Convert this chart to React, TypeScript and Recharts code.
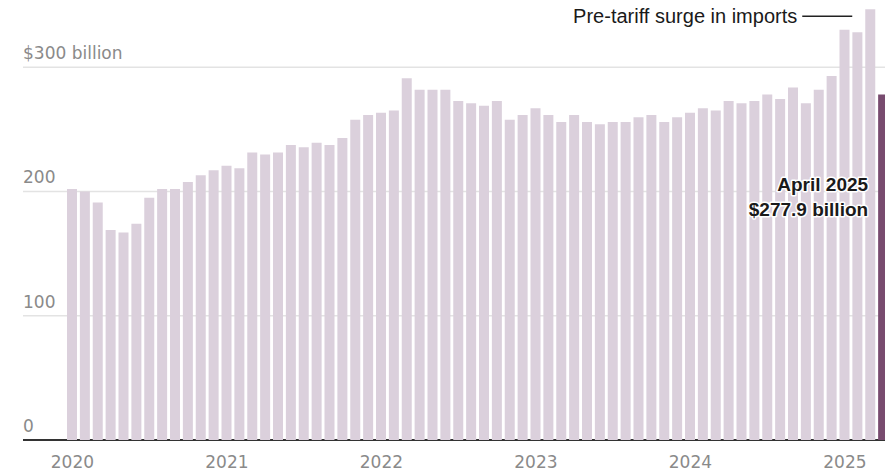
import React from 'react';
import { BarChart, Bar, XAxis, YAxis, CartesianGrid, Cell } from 'recharts';

const years = [2020, 2021, 2022, 2023, 2024, 2025];

// Monthly U.S. imports, billions of dollars
const imports2020 = [202, 200, 191, 169, 167, 174, 195, 202, 202, 207.6, 213, 217];
const imports2021 = [220.7, 218.6, 231.4, 229.8, 231.4, 237.3, 235.5, 239.2, 237.3, 243, 257.7, 261.5];
const imports2022 = [263.3, 265.2, 291, 281.8, 281.8, 281.8, 272.7, 270.9, 269, 272.7, 257.7, 261.5];
const imports2023 = [267, 261.5, 255.8, 261.5, 255.8, 254, 255.8, 255.8, 259.6, 261.5, 255.8, 259.6];
const imports2024 = [263.3, 267, 265.2, 272.7, 270.9, 272.7, 278, 274.3, 283.7, 270.9, 281.8, 292.8];
const imports2025 = [330, 328, 346.5, 277.9];

const yTicks = [0, 100, 200, 300];
const yTickLabels = ['0', '100', '200', '$300 billion'];

const surgeLabel = 'Pre-tariff surge in imports';
const latestLabel = ['April 2025', '$277.9 billion'];

const BAR = '#dbd0dc';
const LATEST = '#784b6f';
const TICK = '#8a8a8a';

const byYear = [imports2020, imports2021, imports2022, imports2023, imports2024, imports2025];
const data = byYear.flatMap((vals, yi) =>
  vals.map((v, m) => ({ month: `${years[yi]}-${String(m + 1).padStart(2, '0')}`, value: v })),
);
const last = data.length - 1;
const surge = last - 1;

const YTick = ({ y, payload }: any) => {
  const i = yTicks.indexOf(payload.value);
  return (
    <text x={23} y={y - 8} fill={TICK} fontSize={17} fontFamily="DejaVu Sans" textAnchor="start">
      {yTickLabels[i]}
    </text>
  );
};

const halo = { paintOrder: 'stroke' as const, stroke: '#fff', strokeWidth: 3, strokeLinejoin: 'round' as const };

const Notes = ({ x, y, index }: any) => {
  if (index === last) {
    return (
      <g fontFamily="Liberation Sans" fontWeight="bold" fontSize={19} fill="#1a1a1a" textAnchor="end" style={halo}>
        <text x={x - 10} y={y + 96}>{latestLabel[0]}</text>
        <text x={x - 10} y={y + 121}>{latestLabel[1]}</text>
      </g>
    );
  }
  if (index === surge) {
    return (
      <g>
        <line x1={x - 63} x2={x - 13} y1={y + 7} y2={y + 7} stroke="#222" strokeWidth={1.5} />
        <text x={x - 68} y={y + 13.5} fontFamily="Liberation Sans" fontSize={20} fill="#1a1a1a" textAnchor="end" style={halo}>
          {surgeLabel}
        </text>
      </g>
    );
  }
  return null;
};

export default function App() {
  return (
    <div style={{ width: 885, height: 475, overflow: 'hidden', position: 'relative' }}>
      <style>{'body{margin:0;overflow:hidden}'}</style>
      <BarChart width={900} height={475} data={data} margin={{ top: 5, right: 10, bottom: 5, left: 23 }}>
        <CartesianGrid x={23} width={880} vertical={false} stroke="#e3e3e3" strokeWidth={1.5} horizontalValues={[100, 200, 300]} />
        <YAxis
          width={43}
          domain={[0, 350]}
          ticks={yTicks}
          axisLine={false}
          tickLine={false}
          tick={<YTick />}
        />
        <XAxis
          dataKey="month"
          height={30}
          interval={11}
          axisLine={false}
          tickLine={false}
          tickMargin={10}
          tickFormatter={(m: string) => m.slice(0, 4)}
          tick={{ fill: TICK, fontSize: 17, fontFamily: 'DejaVu Sans' }}
        />
        <Bar dataKey="value" barSize={10} isAnimationActive={false} label={<Notes />}>
          {data.map((d, i) => (
            <Cell key={d.month} fill={i === last ? LATEST : BAR} />
          ))}
        </Bar>
        <CartesianGrid x={23} width={880} vertical={false} stroke="#333" strokeWidth={2} horizontalValues={[0]} />
      </BarChart>
    </div>
  );
}
